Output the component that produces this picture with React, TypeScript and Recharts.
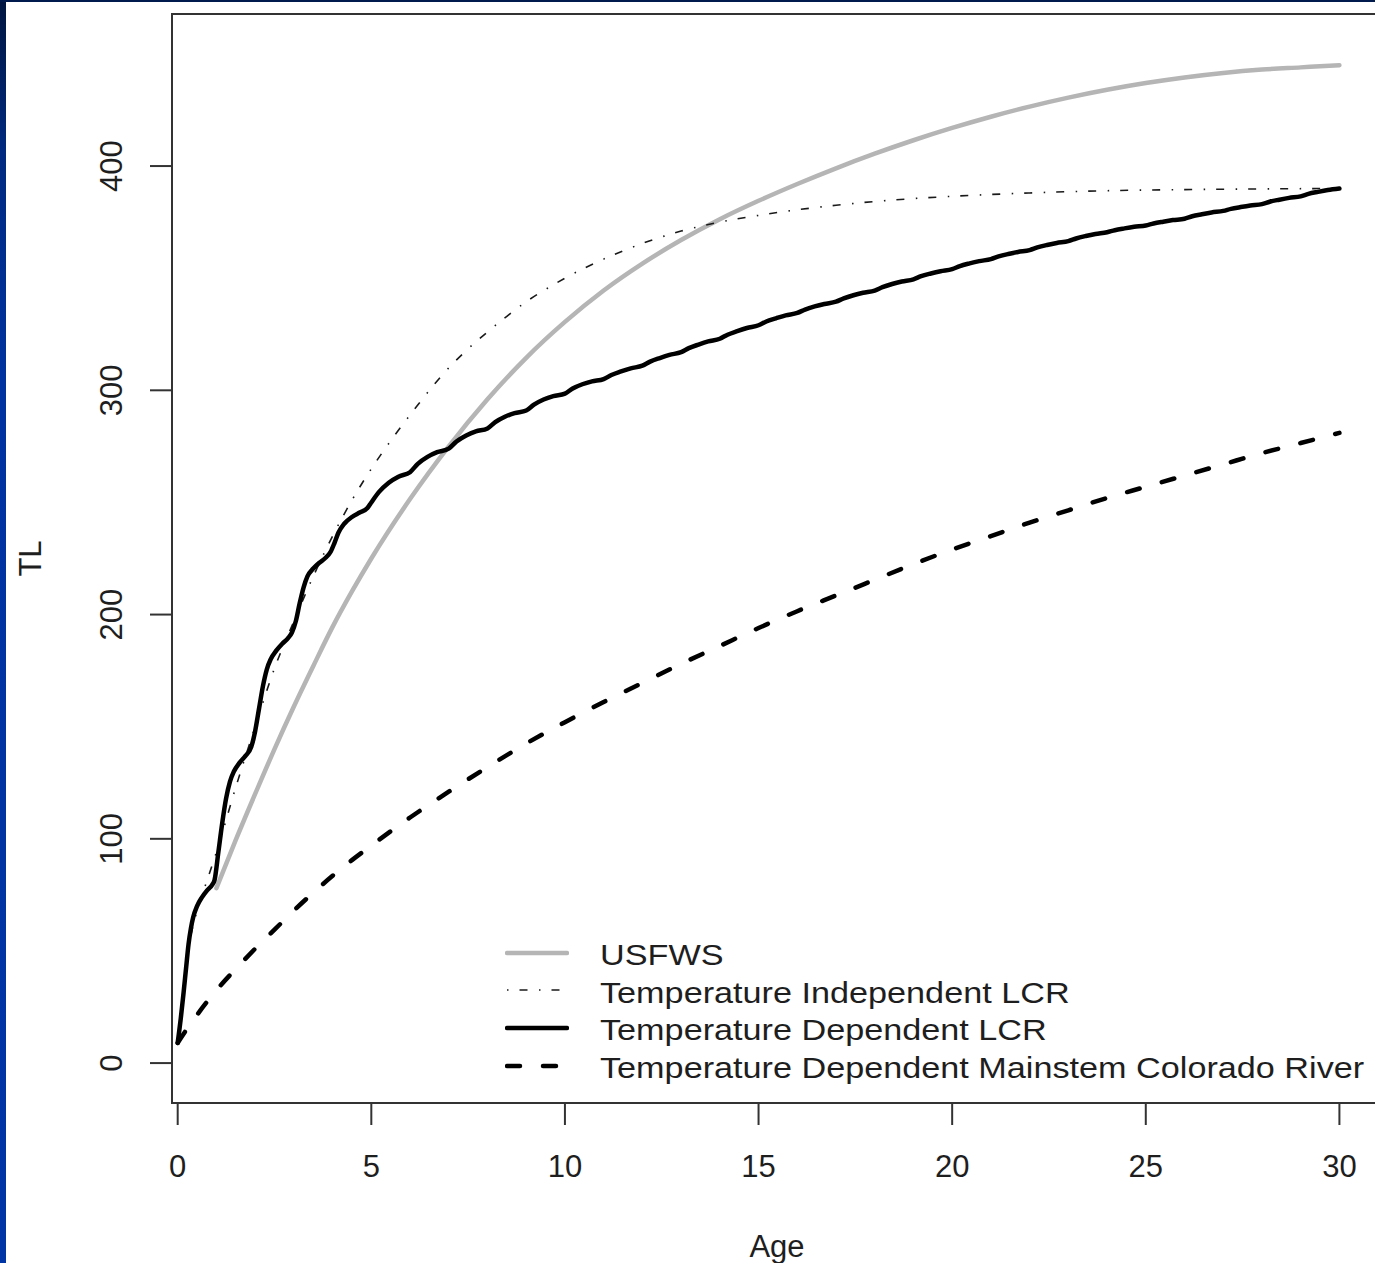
import React from 'react';
import { LineChart, Line, XAxis, YAxis, ReferenceArea, Legend, Label } from 'recharts';

// ---------- data ----------
const usfwsPoints: [number, number][] = [
  [1, 78], [1.5, 99.5], [2, 120], [2.5, 140], [3, 159], [3.5, 177], [4, 194.5], [4.5, 210.3],
  [5, 225], [6, 251.5], [7, 275], [8, 296], [9, 314.5], [10, 330.5], [11, 344.5], [12, 356.5],
  [13, 367], [14, 376.3], [15, 384.5], [16, 392], [17, 399], [18, 405.5], [19, 411.5], [20, 417],
  [21, 422], [22, 426.5], [23, 430.5], [24, 434], [25, 437], [26, 439.5], [27, 441.5], [28, 443],
  [29, 444], [30, 445],
];

const tempIndepPoints: [number, number][] = [
  [0, 9], [0.25, 48], [0.5, 68], [0.75, 81], [1, 94], [1.5, 123], [2, 150], [2.5, 176], [3, 197],
  [3.5, 217], [4, 235], [4.5, 251], [5, 265], [5.5, 277.5], [6, 289], [6.5, 300], [7, 310],
  [7.5, 318.5], [8, 326], [8.5, 333], [9, 339.5], [9.5, 345], [10, 350], [11, 358.5], [12, 365.5],
  [13, 371], [14, 375], [15, 378], [16, 380.5], [17, 382.5], [18, 384.2], [19, 385.5], [20, 386.5],
  [22, 388], [24, 389], [26, 389.5], [28, 389.8], [30, 390],
];

const tempDepLcrPoints: [number, number][] = [
  [0, 9], [0.08, 20], [0.15, 31], [0.22, 43], [0.28, 53], [0.34, 60], [0.4, 65], [0.5, 70],
  [0.63, 74], [0.76, 77], [0.89, 79.5], [0.95, 81.5], [1.05, 94], [1.15, 107], [1.25, 118],
  [1.35, 125.5], [1.45, 130], [1.6, 134], [1.75, 137], [1.9, 141], [2.0, 148], [2.1, 158],
  [2.2, 168], [2.3, 175.5], [2.4, 180], [2.55, 184], [2.7, 187], [2.85, 189.5], [2.95, 192],
  [3.05, 197], [3.15, 205], [3.25, 212], [3.35, 217], [3.5, 220.5], [3.65, 223], [3.8, 225],
  [3.95, 228], [4.05, 232], [4.15, 236.5], [4.3, 240.5], [4.5, 243.5], [4.7, 245.5], [4.9, 247.5],
  [5, 250], [5.2, 254.7], [5.45, 258.8], [5.7, 261.5],
  [6, 263.5], [6.2, 267.2], [6.45, 270.3], [6.7, 272.4],
  [7, 274], [7.2, 277.2], [7.45, 279.9], [7.7, 281.7],
  [8, 283], [8.2, 285.8], [8.45, 288.2], [8.7, 289.8],
  [9, 291], [9.2, 293.6], [9.45, 295.9], [9.7, 297.4],
  [10, 298.5], [10.2, 300.8], [10.45, 302.7], [10.7, 304],
  [11, 305], [11.2, 306.8], [11.45, 308.4], [11.7, 309.8],
  [12, 311], [12.2, 312.8], [12.45, 314.4], [12.7, 315.8],
  [13, 317], [13.2, 318.8], [13.45, 320.4], [13.7, 321.8],
  [14, 323], [14.2, 324.8], [14.45, 326.4], [14.7, 327.8],
  [15, 329], [15.2, 330.7], [15.45, 332.1], [15.7, 333.4],
  [16, 334.5], [16.2, 336], [16.45, 337.4], [16.7, 338.5],
  [17, 339.5], [17.2, 341], [17.45, 342.4], [17.7, 343.5],
  [18, 344.5], [18.2, 346], [18.45, 347.4], [18.7, 348.5],
  [19, 349.5], [19.2, 350.9], [19.45, 352.1], [19.7, 353.1],
  [20, 354], [20.2, 355.4], [20.45, 356.6], [20.7, 357.6],
  [21, 358.5], [21.2, 359.7], [21.45, 360.8], [21.7, 361.7],
  [22, 362.5], [22.2, 363.7], [22.45, 364.8], [22.7, 365.7],
  [23, 366.5], [23.2, 367.7], [23.45, 368.8], [23.7, 369.7],
  [24, 370.5], [24.2, 371.4], [24.45, 372.2], [24.7, 372.9],
  [25, 373.5], [25.2, 374.4], [25.45, 375.2], [25.7, 375.9],
  [26, 376.5], [26.2, 377.6], [26.45, 378.5], [26.7, 379.3],
  [27, 380], [27.2, 380.9], [27.45, 381.7], [27.7, 382.4],
  [28, 383], [28.2, 384.1], [28.45, 385], [28.7, 385.8],
  [29, 386.5], [29.2, 387.6], [29.45, 388.5], [29.7, 389.3],
  [30, 390],
];

const mainstemPoints: [number, number][] = [
  [0, 9], [0.25, 15.5], [0.5, 21.5], [1, 32.5], [1.5, 42], [2, 51], [2.5, 59.5], [3, 68], [3.5, 76],
  [4, 83.5], [4.5, 90.5], [5, 97], [6, 109.5], [7, 121], [8, 132], [9, 142.5], [10, 152], [11, 161],
  [12, 169.5], [13, 178], [14, 186], [15, 194], [16, 201.5], [17, 208.5], [18, 215.5], [19, 222.5],
  [20, 229], [21, 235], [22, 241], [23, 246.5], [24, 252], [25, 257], [26, 262], [27, 267],
  [28, 272], [29, 276.5], [30, 281],
];

const xTicks = [0, 5, 10, 15, 20, 25, 30];
const yTicks = [0, 100, 200, 300, 400];
const seriesNames = [
  'USFWS',
  'Temperature Independent LCR',
  'Temperature Dependent LCR',
  'Temperature Dependent Mainstem Colorado River',
];

// ---------- presentation ----------
const FONT = "'Liberation Sans', Arial, Helvetica, sans-serif";
const TXT = '#1e1e1e';
const X_DOMAIN: [number, number] = [-0.147, 31.1];
const Y_DOMAIN: [number, number] = [-17.8, 467.8];

const toRows = (pts: [number, number][]) => pts.map(([age, tl]) => ({ age, tl }));

const styles = [
  { stroke: '#b5b5b5', strokeWidth: 4.5, dash: undefined as string | undefined, cap: 'round' as const },
  { stroke: '#1a1a1a', strokeWidth: 1.6, dash: '1.5 11 8 11.5', cap: 'butt' as const },
  { stroke: '#000000', strokeWidth: 4.5, dash: undefined as string | undefined, cap: 'round' as const },
  { stroke: '#000000', strokeWidth: 4.5, dash: '13 23', cap: 'round' as const },
];
const seriesData = [usfwsPoints, tempIndepPoints, tempDepLcrPoints, mainstemPoints].map(toRows);

const YTick = (props: any) => {
  const { x, y, payload } = props;
  const bx = x - 28;
  return (
    <text x={bx} y={y} transform={`rotate(-90, ${bx}, ${y})`} textAnchor="middle"
      fontSize={31} fontFamily={FONT} fill={TXT}>
      {payload.value}
    </text>
  );
};

const XTitle = (props: any) => {
  const vb = props.viewBox;
  return (
    <text x={vb.x + vb.width / 2} y={vb.y + vb.height - 6} textAnchor="middle"
      fontSize={31} fontFamily={FONT} fill={TXT}>Age</text>
  );
};

const YTitle = (props: any) => {
  const vb = props.viewBox;
  const bx = vb.x + 41;
  const cy = vb.y + vb.height / 2;
  return (
    <text x={bx} y={cy} transform={`rotate(-90, ${bx}, ${cy})`} textAnchor="middle"
      fontSize={31} fontFamily={FONT} fill={TXT}>TL</text>
  );
};

const LegendBox = () => (
  <div style={{ fontFamily: FONT, color: TXT }}>
    {seriesNames.map((name, i) => {
      const s = styles[i];
      return (
        <div key={name} style={{ display: 'flex', alignItems: 'center', height: 37.6 }}>
          <svg width={64} height={12} style={{ display: 'block' }}>
            <line x1={2} x2={62} y1={6} y2={6} stroke={s.stroke} strokeWidth={s.strokeWidth}
              strokeDasharray={s.dash} strokeLinecap={s.cap} />
          </svg>
          <span style={{
            marginLeft: 31, fontSize: 30, lineHeight: '37.6px', whiteSpace: 'nowrap',
            display: 'inline-block', transform: 'scaleX(1.14)', transformOrigin: 'left center',
            position: 'relative', top: 2,
          }}>{name}</span>
        </div>
      );
    })}
  </div>
);

export default function App() {
  return (
    <div style={{ position: 'absolute', left: 0, top: 0, width: 1375, height: 1263, overflow: 'hidden', background: '#ffffff' }}>
      <div style={{ position: 'absolute', left: 0, top: 0 }}>
        <LineChart width={1382} height={1263} margin={{ top: 14, right: 0, bottom: 0, left: 0 }}>
          <XAxis type="number" dataKey="age" domain={X_DOMAIN} ticks={xTicks} allowDataOverflow
            height={160} tickSize={22} tickMargin={30} axisLine={false} stroke="#333"
            tickLine={{ stroke: '#333', strokeWidth: 2 }}
            tick={{ fontSize: 31, fill: TXT, fontFamily: FONT }}>
            <Label content={XTitle} />
          </XAxis>
          <YAxis type="number" domain={Y_DOMAIN} ticks={yTicks} allowDataOverflow width={172}
            tickSize={22} tickMargin={0} axisLine={false} stroke="#333"
            tickLine={{ stroke: '#333', strokeWidth: 2 }} tick={YTick}>
            <Label content={YTitle} />
          </YAxis>
          <ReferenceArea x1={X_DOMAIN[0]} x2={X_DOMAIN[1]} y1={Y_DOMAIN[0]} y2={Y_DOMAIN[1]}
            fill="none" fillOpacity={0} stroke="#333" strokeWidth={2} ifOverflow="visible" />
          {seriesData.map((rows, i) => (
            <Line key={seriesNames[i]} name={seriesNames[i]} data={rows} dataKey="tl" type="monotone"
              stroke={styles[i].stroke} strokeWidth={styles[i].strokeWidth}
              strokeDasharray={styles[i].dash} strokeLinecap={styles[i].cap} strokeLinejoin="round"
              dot={false} activeDot={false} isAnimationActive={false} />
          ))}
          <Legend content={LegendBox} layout="horizontal" verticalAlign="middle" align="center"
            wrapperStyle={{ left: 505, top: 934, width: 880 }} />
        </LineChart>
      </div>
      <div style={{ position: 'absolute', left: 0, top: 0, width: 6, height: 1263,
        background: 'linear-gradient(to bottom, #00153f 0%, #002a80 12%, #0033a0 30%, #0035a6 100%)' }} />
      <div style={{ position: 'absolute', left: 0, top: 0, width: 1375, height: 2, background: '#001a4d' }} />
    </div>
  );
}
